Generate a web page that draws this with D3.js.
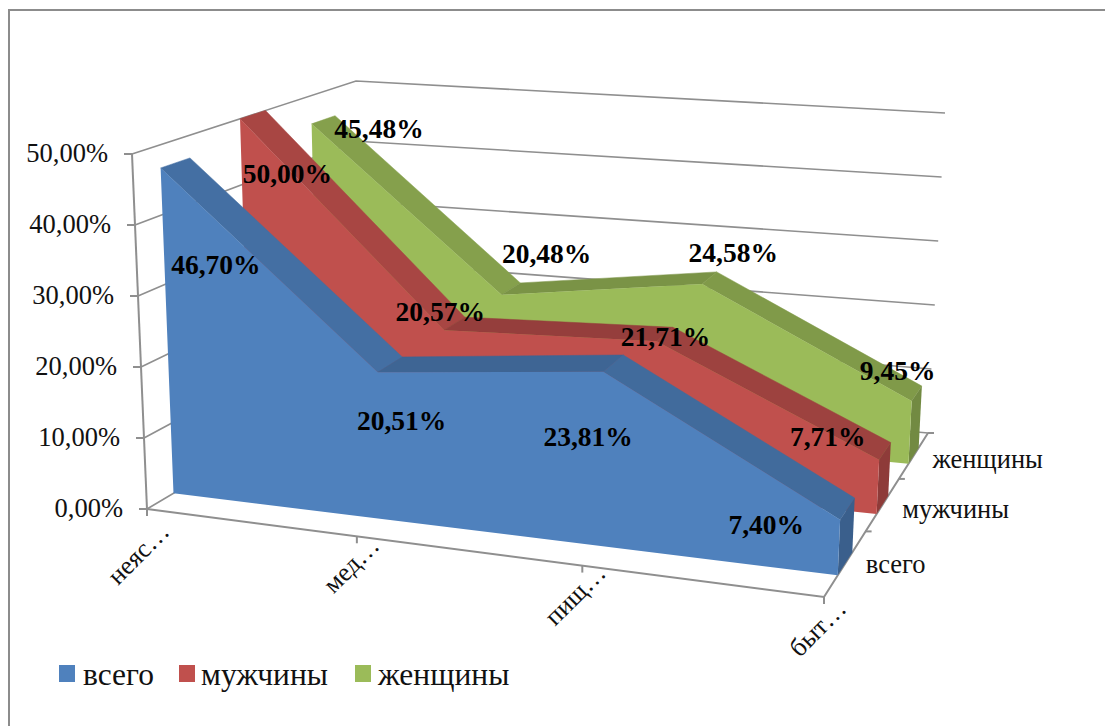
<!DOCTYPE html>
<html>
<head>
<meta charset="utf-8">
<script src="https://cdn.jsdelivr.net/npm/d3@7"></script>
<style>
  html, body { margin: 0; padding: 0; background: #fff; }
  svg text { font-family: "Liberation Serif", serif; fill: #111; }
</style>
</head>
<body>
<div id="chart"></div>
<script>
// chart values
const categories = ["неяс…", "мед…", "пищ…", "быт…"];
const seriesNames = ["всего", "мужчины", "женщины"];
const vsego = [46.70, 20.51, 23.81, 7.40];
const muzhchiny = [50.00, 20.57, 21.71, 7.71];
const zhenshchiny = [45.48, 20.48, 24.58, 9.45];
const valueTicks = [0, 10, 20, 30, 40, 50];

const seriesValues = [vsego, muzhchiny, zhenshchiny];
const seriesColors = ["#4F81BD", "#C0504D", "#9BBB59"];

const width = 1105, height = 726;

// corners of the 3d box as they land on the screen
const box = {
  flb: [147, 509], flt: [132, 154],
  frb: [824, 597], frt: [840, 212],
  blb: [361, 382], blt: [356, 81],
  brb: [928, 433], brt: [945, 113],
};

// piecewise scales give the foreshortening of the perspective
const xScale = d3.scaleLinear().domain([0, 1, 2, 3]).range([0, 0.31, 0.643, 1]);
const yScale = d3.scaleLinear().domain([0, 50]).range([0, 1]);
const depthLeft = d3.scaleLinear().domain([0, 1, 2, 3]).range([0, 0.375, 0.70, 1]);
const depthRight = d3.scaleLinear().domain([0, 1, 2, 3]).range([0, 0.40, 0.72, 1]);

const lerp = (a, b, t) => [a[0] + (b[0] - a[0]) * t, a[1] + (b[1] - a[1]) * t];

function project(c, v, z) {
  const fx = xScale(c), fy = yScale(v);
  const t = depthLeft(z) + (depthRight(z) - depthLeft(z)) * fx;
  const bottom = lerp(lerp(box.flb, box.frb, fx), lerp(box.blb, box.brb, fx), t);
  const top = lerp(lerp(box.flt, box.frt, fx), lerp(box.blt, box.brt, fx), t);
  return lerp(bottom, top, fy);
}

const ruLocale = d3.formatLocale({ decimal: ",", thousands: " ", grouping: [3], currency: ["", ""] });
const pct = v => ruLocale.format(".2f")(v) + "%";

const svg = d3.select("#chart").append("svg")
  .attr("width", width)
  .attr("height", height)
  .attr("viewBox", [0, 0, width, height])
  .style("display", "block");

// outer frame
svg.append("path")
  .attr("d", "M9,726V10H1105")
  .attr("fill", "none")
  .attr("stroke", "#8c8c8c")
  .attr("stroke-width", 2);

const line = d3.line();
const closed = pts => line(pts) + "Z";
const axisColor = "#8f8f8f";
const lastCat = categories.length - 1;
const lastDepth = seriesNames.length;

// gridlines on the two walls
svg.append("g").selectAll("path")
  .data(valueTicks)
  .join("path")
  .attr("d", v => line([project(0, v, 0), project(0, v, lastDepth), project(lastCat, v, lastDepth)]))
  .attr("fill", "none")
  .attr("stroke", axisColor)
  .attr("stroke-width", 1.6);

// axes
const axes = svg.append("g").attr("fill", "none").attr("stroke", axisColor).attr("stroke-width", 2);
axes.append("path").attr("d", line([project(0, 0, 0), project(0, 50, 0)]));
axes.append("path").attr("d", line([project(0, 0, 0), project(lastCat, 0, 0), project(lastCat, 0, lastDepth)]));
valueTicks.forEach(v => {
  const p = project(0, v, 0);
  axes.append("path").attr("d", line([[p[0] - 8, p[1]], p]));
});
categories.forEach((c, i) => {
  const p = project(i, 0, 0);
  axes.append("path").attr("d", line([p, [p[0], p[1] + 7]]));
});
d3.range(1, lastDepth + 1).forEach(z => {
  const p = project(lastCat, 0, z);
  axes.append("path").attr("d", line([p, [p[0] + 6, p[1]]]));
});

// value labels
svg.append("g").selectAll("text")
  .data(valueTicks)
  .join("text")
  .attr("x", v => project(0, v, 0)[0] - 24)
  .attr("y", v => project(0, v, 0)[1] + 8)
  .attr("text-anchor", "end")
  .attr("font-size", 26.5)
  .text(pct);

// category labels, rotated
const catNudge = [[24, 24], [24, 11], [25, 9], [24, 13]];
svg.append("g").selectAll("text")
  .data(categories)
  .join("text")
  .attr("transform", (d, i) => {
    const p = project(i, 0, 0);
    return `translate(${p[0] + catNudge[i][0]},${p[1] + catNudge[i][1]}) rotate(-45)`;
  })
  .attr("text-anchor", "end")
  .attr("font-size", 26)
  .text(d => d);

// depth axis labels
const depthNudge = [[6, 1], [5, 5], [4, 4]];
svg.append("g").selectAll("text")
  .data(seriesNames)
  .join("text")
  .attr("x", (d, i) => project(lastCat, 0, i + 0.5)[0] + 15 + depthNudge[i][0])
  .attr("y", (d, i) => project(lastCat, 0, i + 0.5)[1] + 8 + depthNudge[i][1])
  .attr("font-size", 26.5)
  .text(d => d);

// series, back one first; each takes the band 0.33-0.68 of its depth slot
const bandFront = 0.33, bandBack = 0.68;
const topShade = d3.scaleLinear().domain([0, 26]).range([0.72, 0.42]);

d3.range(seriesValues.length - 1, -1, -1).forEach(s => {
  const values = seriesValues[s];
  const color = seriesColors[s];
  const zf = s + bandFront, zb = s + bandBack;
  const g = svg.append("g").attr("class", "series");

  // top faces
  g.selectAll(".top")
    .data(d3.pairs(values.map((v, i) => ({ i, v }))))
    .join("path")
    .attr("class", "top")
    .attr("d", ([a, b]) => closed([project(a.i, a.v, zf), project(b.i, b.v, zf), project(b.i, b.v, zb), project(a.i, a.v, zb)]))
    .attr("fill", ([a, b]) => d3.color(color).darker(topShade(Math.abs(a.v - b.v))))
    .attr("stroke", ([a, b]) => d3.color(color).darker(topShade(Math.abs(a.v - b.v))))
    .attr("stroke-width", 0.5);

  // right end
  g.append("path")
    .attr("d", closed([project(lastCat, 0, zf), project(lastCat, values[lastCat], zf), project(lastCat, values[lastCat], zb), project(lastCat, 0, zb)]))
    .attr("fill", d3.color(color).darker(0.85));

  // front face
  const front = values.map((v, i) => project(i, v, zf));
  g.append("path")
    .attr("d", closed([project(0, 0, zf), ...front, project(lastCat, 0, zf)]))
    .attr("fill", color);
});

// data labels, offset from the point they belong to
const labelNudge = [
  [[41, 103], [12, 57], [-25, 74], [-81, 17]],
  [[35, 60], [-14, -11], [1, 4], [-57, -13]],
  [[56, 10], [36, -34], [24, -24], [-19, -22]],
];
const labels = svg.append("g");
seriesValues.forEach((values, s) => {
  values.forEach((v, i) => {
    const p = project(i, v, s + 0.5);
    labels.append("text")
      .attr("x", p[0] + labelNudge[s][i][0])
      .attr("y", p[1] + labelNudge[s][i][1] + 8)
      .attr("text-anchor", "middle")
      .attr("font-size", 27.5)
      .attr("font-weight", "bold")
      .style("fill", "#000")
      .text(pct(v));
  });
});

// legend
const legendSwatch = [59, 179, 355];
const legendText = [83, 201, 378];
const legend = svg.append("g");
seriesNames.forEach((name, s) => {
  legend.append("rect")
    .attr("x", legendSwatch[s])
    .attr("y", 665)
    .attr("width", 16)
    .attr("height", 17)
    .attr("fill", seriesColors[s]);
  legend.append("text")
    .attr("x", legendText[s])
    .attr("y", 685)
    .attr("font-size", 31.5)
    .text(name);
});
</script>
</body>
</html>
